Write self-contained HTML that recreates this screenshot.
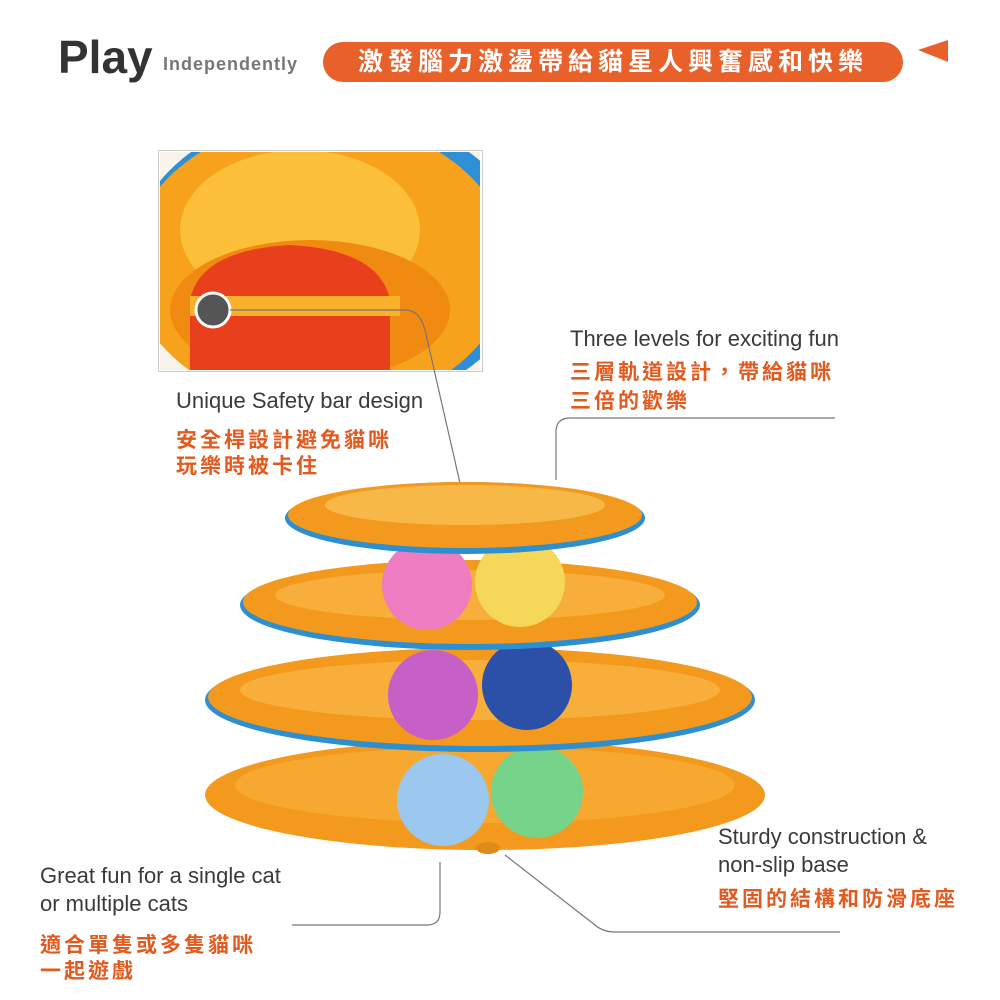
<!DOCTYPE html>
<html><head><meta charset="utf-8"><style>
html,body{margin:0;padding:0;background:#fff;}
body{width:1000px;height:1000px;position:relative;overflow:hidden;font-family:"Liberation Sans","Noto Sans CJK TC",sans-serif;}
.t{position:absolute;white-space:nowrap;}
.en{font-size:22px;color:#3a3a3a;}
.zh{font-size:21px;color:#e35a1f;letter-spacing:3px;font-weight:bold;}
</style></head><body>
<div class="t" style="left:58px;top:30px;font-size:46px;font-weight:bold;color:#333;">Play</div>
<div class="t" style="left:163px;top:54px;font-size:18px;letter-spacing:1px;font-weight:bold;color:#777;">Independently</div>
<div class="t" style="left:323px;top:42px;width:580px;height:40px;border-radius:20px;background:#e8612a;color:#fff;font-size:25px;line-height:40px;text-align:center;letter-spacing:5px;font-weight:bold;">激發腦力激盪帶給貓星人興奮感和快樂</div>
<svg style="position:absolute;left:0;top:0" width="1000" height="1000">
<polygon points="918,50 948,40 948,62" fill="#e8612a"/>
<defs><clipPath id="c"><rect x="160" y="152" width="320" height="218"/></clipPath></defs>
<rect x="158.5" y="150.5" width="324" height="221" fill="#fff" stroke="#ccc"/>
<g clip-path="url(#c)">
<rect x="160" y="152" width="320" height="218" fill="#f7f2ea"/>
<ellipse cx="330" cy="260" rx="200" ry="150" fill="#2f8fd6"/>
<ellipse cx="320" cy="265" rx="190" ry="145" fill="#f7a21c"/>
<ellipse cx="300" cy="230" rx="120" ry="80" fill="#fbbf3a"/>
<ellipse cx="310" cy="310" rx="140" ry="70" fill="#f08a10"/>
<path d="M190,300 Q200,250 290,245 Q380,250 390,300 L390,370 L190,370Z" fill="#e8401c"/>
<rect x="190" y="296" width="210" height="20" fill="#f9b02a"/>
</g>
<circle cx="213" cy="310" r="17" fill="#555" stroke="#fff" stroke-width="3"/>
<path d="M230,310 H405 Q420,310 425,330 L465,505" fill="none" stroke="#777" stroke-width="1.2"/>
<ellipse cx="485" cy="795" rx="280" ry="55" fill="#f39a1e"/>
<ellipse cx="485" cy="785" rx="250" ry="38" fill="#f7a830"/>
<circle cx="443" cy="800" r="46" fill="#9cc7ee"/>
<circle cx="537" cy="792" r="46" fill="#76d48a"/>
<ellipse cx="480" cy="700" rx="275" ry="52" fill="#2d8fd0"/>
<ellipse cx="480" cy="697" rx="272" ry="49" fill="#f39a1e"/>
<ellipse cx="480" cy="690" rx="240" ry="30" fill="#f7ae3a"/>
<circle cx="433" cy="695" r="45" fill="#c65fc6"/>
<circle cx="527" cy="685" r="45" fill="#2c4fa8"/>
<ellipse cx="470" cy="605" rx="230" ry="45" fill="#2d8fd0"/>
<ellipse cx="470" cy="602" rx="227" ry="42" fill="#f39a1e"/>
<ellipse cx="470" cy="595" rx="195" ry="25" fill="#f7ae3a"/>
<circle cx="427" cy="585" r="45" fill="#ee7cc0"/>
<circle cx="520" cy="582" r="45" fill="#f5d85a"/>
<ellipse cx="465" cy="518" rx="180" ry="36" fill="#2d8fd0"/>
<ellipse cx="465" cy="515" rx="177" ry="33" fill="#f39a1e"/>
<ellipse cx="465" cy="505" rx="140" ry="20" fill="#f8b848"/>
<ellipse cx="488" cy="848" rx="12" ry="6" fill="#e08a1a"/>
<path d="M556,480 V432 Q556,418 570,418 H835" fill="none" stroke="#777" stroke-width="1.2"/>
<path d="M440,862 V912 Q440,925 427,925 H292" fill="none" stroke="#777" stroke-width="1.2"/>
<path d="M505,855 L595,925 Q603,932 615,932 H840" fill="none" stroke="#777" stroke-width="1.2"/>
</svg>
<div class="t en" style="left:176px;top:388px;">Unique Safety bar design</div>
<div class="t zh" style="left:176px;top:424px;">安全桿設計避免貓咪</div>
<div class="t zh" style="left:176px;top:450px;">玩樂時被卡住</div>
<div class="t en" style="left:570px;top:326px;">Three levels for exciting fun</div>
<div class="t zh" style="left:570px;top:356px;">三層軌道設計，帶給貓咪</div>
<div class="t zh" style="left:570px;top:385px;">三倍的歡樂</div>
<div class="t en" style="left:40px;top:863px;">Great fun for a single cat</div>
<div class="t en" style="left:40px;top:891px;">or multiple cats</div>
<div class="t zh" style="left:40px;top:929px;">適合單隻或多隻貓咪</div>
<div class="t zh" style="left:40px;top:955px;">一起遊戲</div>
<div class="t en" style="left:718px;top:824px;">Sturdy construction &amp;</div>
<div class="t en" style="left:718px;top:852px;">non-slip base</div>
<div class="t zh" style="left:718px;top:883px;">堅固的結構和防滑底座</div>
</body></html>
